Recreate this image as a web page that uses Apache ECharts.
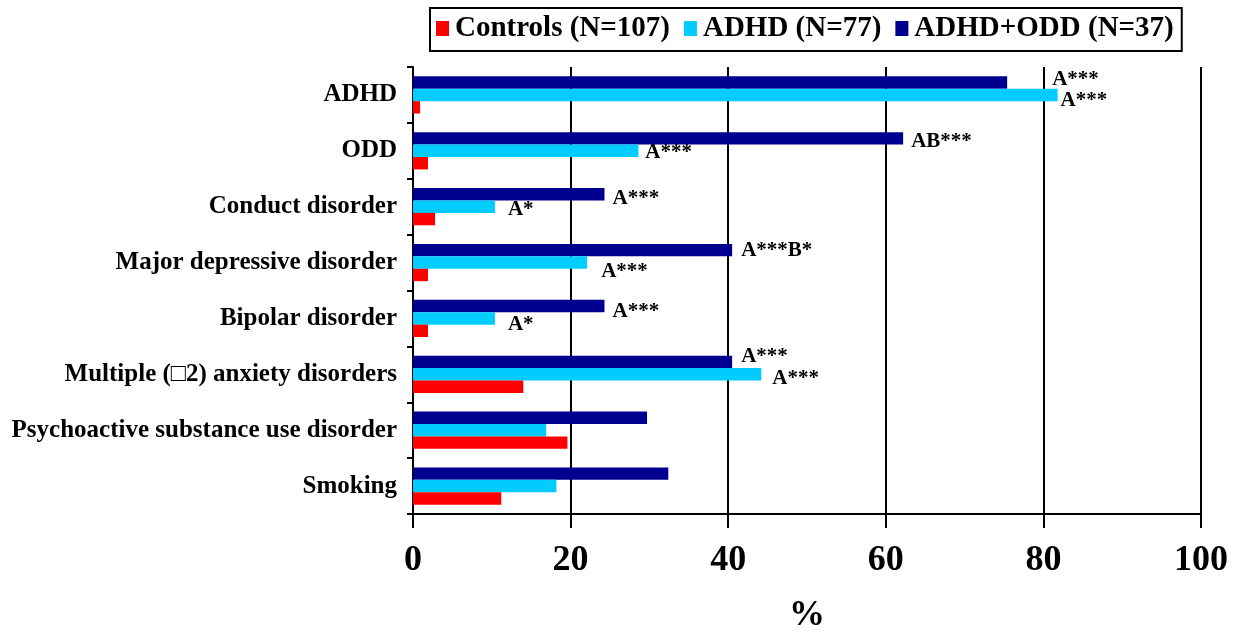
<!DOCTYPE html>
<html>
<head>
<meta charset="utf-8">
<script src="https://cdn.jsdelivr.net/npm/echarts@6/dist/echarts.min.js"></script>
<style>html,body{margin:0;padding:0;background:#fff}#chart{width:1248px;height:631px}</style>
</head>
<body>
<div id="chart"></div>
<script>
// Categories, top to bottom as in the reference
const categories = ['ADHD', 'ODD', 'Conduct disorder', 'Major depressive disorder', 'Bipolar disorder',
  'Multiple (\u25A12) anxiety disorders', 'Psychoactive substance use disorder', 'Smoking'];
const seriesNames = ['Controls (N=107)', 'ADHD (N=77)', 'ADHD+ODD (N=37)'];
const controls = [0.9, 1.9, 2.8, 1.9, 1.9, 14.0, 19.6, 11.2];
const adhd = [81.8, 28.6, 10.4, 22.1, 10.4, 44.2, 16.9, 18.2];
const adhdOdd = [75.4, 62.2, 24.3, 40.5, 24.3, 40.5, 29.7, 32.4];
const adhdLabels = ['A***', 'A***', 'A*', 'A***', 'A*', 'A***', '', ''];
const adhdOddLabels = ['A***', 'AB***', 'A***', 'A***B*', 'A***', 'A***', '', ''];
const xTicks = [0, 20, 40, 60, 80, 100];

// label placement (styling, not data)
const adhdLabelOffsets = [[3, 7], [7, 3], [13, 4], [14, 10], [13, 7], [11, 5], [0, 0], [0, 0]];
const adhdOddLabelOffsets = [[45, -2], [8, 4], [8, 5], [9, 1], [8, 7], [9, -4], [0, 0], [0, 0]];

const FONT = '"Liberation Serif", "Times New Roman", serif';

function withLabels(values, labels, offsets) {
  return values.map((v, i) => ({
    value: v,
    label: labels[i] ? {
      show: true, position: 'right', distance: 0, formatter: labels[i],
      offset: [offsets[i][0], offsets[i][1] - 1],
      fontFamily: FONT, fontWeight: 'bold', fontSize: 21, color: '#000'
    } : { show: false }
  }));
}

const barCommon = { type: 'bar', barWidth: 12.4, barGap: '0%' };

const chart = echarts.init(document.getElementById('chart'), null, { renderer: 'canvas' });
chart.setOption({
  animation: false,
  backgroundColor: '#fff',
  legend: {
    data: seriesNames,
    left: 430, top: 8,
    orient: 'horizontal',
    borderColor: '#000', borderWidth: 2,
    padding: [6, 8, 8, 6],
    itemWidth: 13, itemHeight: 15, itemGap: 14,
    icon: 'rect',
    textStyle: { fontFamily: FONT, fontWeight: 'bold', fontSize: 29, color: '#000', padding: [2, 0, 0, 1] }
  },
  grid: { left: 413, right: 47, top: 67, bottom: 117, containLabel: false, outerBoundsMode: 'none' },
  xAxis: {
    type: 'value', min: 0, max: 100, interval: 20,
    name: '%', nameLocation: 'middle', nameGap: 84,
    nameTextStyle: { fontFamily: FONT, fontWeight: 'bold', fontSize: 36, color: '#000' },
    axisLine: { show: true, lineStyle: { color: '#000', width: 2 } },
    axisTick: { show: true, length: 14, lineStyle: { color: '#000', width: 2 } },
    axisLabel: { margin: 29, fontFamily: FONT, fontWeight: 'bold', fontSize: 36, color: '#000',
      formatter: v => xTicks.indexOf(v) >= 0 ? String(v) : '' },
    splitLine: { show: true, lineStyle: { color: '#000', width: 2 } }
  },
  yAxis: {
    type: 'category', data: categories, inverse: true,
    axisLine: { show: true, lineStyle: { color: '#000', width: 2 } },
    axisTick: { show: true, length: 6, lineStyle: { color: '#000', width: 2 } },
    axisLabel: { margin: 16, fontFamily: FONT, fontWeight: 'bold', fontSize: 25, color: '#000', padding: [4, 0, 0, 0] },
    splitLine: { show: false }
  },
  // drawn top-to-bottom inside each band: ADHD+ODD, ADHD, Controls
  series: [
    Object.assign({ name: seriesNames[2], data: withLabels(adhdOdd, adhdOddLabels, adhdOddLabelOffsets),
      itemStyle: { color: '#000090' } }, barCommon),
    Object.assign({ name: seriesNames[1], data: withLabels(adhd, adhdLabels, adhdLabelOffsets),
      itemStyle: { color: '#00CCFF' } }, barCommon),
    Object.assign({ name: seriesNames[0], data: controls,
      itemStyle: { color: '#FF0000' } }, barCommon)
  ]
});
</script>
</body>
</html>
